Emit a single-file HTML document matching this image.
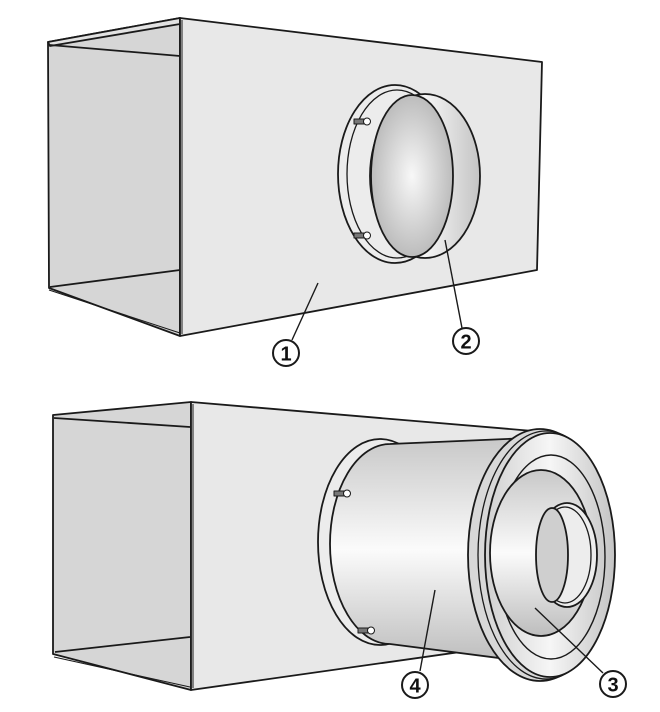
<!DOCTYPE html>
<html><head><meta charset="utf-8"><style>
html,body{margin:0;padding:0;background:#fff;width:660px;height:712px;overflow:hidden}
svg text{font-family:"Liberation Sans",sans-serif;font-weight:bold}
</style></head><body>
<svg width="660" height="712" viewBox="0 0 660 712" xmlns="http://www.w3.org/2000/svg">
<defs>
<radialGradient id="dish" cx="0.5" cy="0.5" r="0.6">
<stop offset="0" stop-color="#f8f8f8"/><stop offset="1" stop-color="#b0b0b0"/></radialGradient>
<linearGradient id="cyl" x1="0" y1="0" x2="0" y2="1">
<stop offset="0" stop-color="#c8c8c8"/><stop offset="0.5" stop-color="#fbfbfb"/><stop offset="1" stop-color="#bdbdbd"/></linearGradient>
<linearGradient id="cylh" x1="0" y1="0" x2="1" y2="0">
<stop offset="0" stop-color="#d0d0d0"/><stop offset="0.5" stop-color="#f6f6f6"/><stop offset="1" stop-color="#c4c4c4"/></linearGradient>
</defs>
<g stroke="#1a1a1a" stroke-width="1.8" stroke-linejoin="round">
<!-- TOP BOX -->
<polygon points="48,42 180,18 180,336 49,288" fill="#d6d6d6"/>
<polygon points="48,42 180,18 180,24 50,46" fill="#e2e2e2"/>
<line x1="50" y1="45" x2="180" y2="56"/>
<line x1="50" y1="287" x2="180" y2="270"/>
<line x1="49" y1="290" x2="180" y2="333" stroke-width="1"/>
<polygon points="180,18 542,62 537,270 180,336" fill="#e8e8e8"/>
<line x1="182" y1="20" x2="182" y2="334" stroke-width="1"/>
<ellipse cx="395" cy="174" rx="57" ry="89" fill="#ececec"/>
<ellipse cx="397" cy="174" rx="50" ry="84" fill="none" stroke-width="1.3"/>
<ellipse cx="425" cy="176" rx="55" ry="82" fill="url(#cylh)"/>
<ellipse cx="412" cy="176" rx="41" ry="81" fill="url(#dish)"/>
<g fill="#777" stroke-width="1"><rect x="354" y="119" width="10" height="5"/><circle cx="367" cy="121.5" r="3.5" fill="#fff"/>
<rect x="354" y="233" width="10" height="5"/><circle cx="367" cy="235.5" r="3.5" fill="#fff"/></g>
<line x1="318" y1="283" x2="292" y2="340" stroke-width="1.4"/>
<line x1="445" y1="240" x2="462" y2="328" stroke-width="1.4"/>
<circle cx="286" cy="353" r="13" fill="#fff" stroke-width="2"/>
<circle cx="466" cy="341" r="13" fill="#fff" stroke-width="2"/>

<!-- BOTTOM BOX -->
<polygon points="53,415 191,402 191,690 53,654" fill="#d6d6d6"/>
<line x1="54" y1="418" x2="190" y2="427"/>
<line x1="55" y1="652" x2="190" y2="637"/>
<line x1="54" y1="657" x2="190" y2="687" stroke-width="1"/>
<polygon points="191,402 545,432 545,640 191,690" fill="#e8e8e8"/>
<line x1="193" y1="404" x2="193" y2="688" stroke-width="1"/>
<ellipse cx="380" cy="542" rx="62" ry="103" fill="#ececec"/>
<path d="M390,444 L530,438 L530,662 L390,644 A60,100 0 0 1 390,444 Z" fill="url(#cyl)"/>
<ellipse cx="540" cy="555" rx="72" ry="126" fill="#d8d8d8"/>
<ellipse cx="546" cy="555" rx="68" ry="124" fill="none" stroke-width="1.3"/>
<ellipse cx="550" cy="555" rx="65" ry="122" fill="url(#cylh)"/>
<ellipse cx="551" cy="557" rx="54" ry="102" fill="none" stroke-width="1.4"/>
<ellipse cx="541" cy="553" rx="51" ry="83" fill="url(#cyl)"/>
<ellipse cx="567" cy="555" rx="30" ry="52" fill="#ededed"/>
<ellipse cx="565" cy="555" rx="26" ry="48" fill="none" stroke-width="1.3"/>
<ellipse cx="552" cy="555" rx="16" ry="47" fill="#cfcfcf"/>
<g fill="#777" stroke-width="1"><rect x="334" y="491" width="10" height="5"/><circle cx="347" cy="493.5" r="3.5" fill="#fff"/>
<rect x="358" y="628" width="10" height="5"/><circle cx="371" cy="630.5" r="3.5" fill="#fff"/></g>
<line x1="435" y1="590" x2="420" y2="671" stroke-width="1.4"/>
<line x1="535" y1="608" x2="603" y2="673" stroke-width="1.4"/>
<circle cx="415" cy="685" r="13" fill="#fff" stroke-width="2"/>
<circle cx="613" cy="684" r="13" fill="#fff" stroke-width="2"/>
</g>
<g font-size="20" text-anchor="middle" fill="#111">
<text x="286" y="360.5">1</text>
<text x="466" y="348.5">2</text>
<text x="415" y="692.5">4</text>
<text x="613" y="691.5">3</text>
</g>
</svg>
</body></html>
